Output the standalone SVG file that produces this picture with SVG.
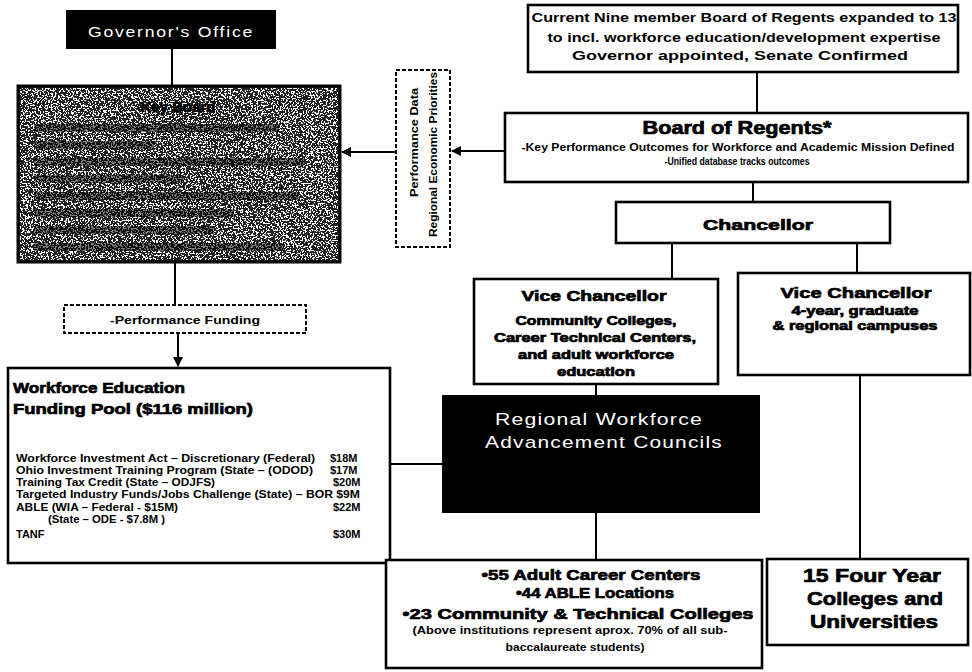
<svg xmlns="http://www.w3.org/2000/svg" width="972" height="672" viewBox="0 0 972 672">
<style>
.box{fill:#fff;stroke:#000;stroke-width:2.6}
.dash{fill:#fff;stroke:#000;stroke-width:2;stroke-dasharray:4 2}
.t{font-family:"Liberation Sans",Arial,sans-serif;font-weight:bold;fill:#000}
.hv{stroke:#000;stroke-width:0.7}
.c{text-anchor:middle}
.wt{font-family:"Liberation Sans",Arial,sans-serif;fill:#fff;font-weight:normal;text-anchor:middle}
.conn line{stroke:#000;stroke-width:2}
.band{fill:#000;opacity:0.5}
</style>
<defs>
<marker id="ah" viewBox="0 0 10 10" refX="9" refY="5" markerWidth="5" markerHeight="5" orient="auto" markerUnits="strokeWidth">
<path d="M0,0 L10,5 L0,10 z" fill="#000"/>
</marker>
<filter id="speckle" x="0" y="0" width="100%" height="100%">
<feTurbulence type="fractalNoise" baseFrequency="0.6" numOctaves="2" seed="7" result="n"/>
<feColorMatrix in="n" type="matrix" values="0 0 0 0 1  0 0 0 0 1  0 0 0 0 1  3 0 0 0 -1.15"/>
<feComponentTransfer><feFuncA type="discrete" tableValues="0 1"/></feComponentTransfer>
</filter>
</defs>

<g class="conn">
<line x1="172" y1="49" x2="172" y2="86"/>
<line x1="175" y1="262" x2="175" y2="305"/>
<line x1="178" y1="334" x2="178" y2="366" marker-end="url(#ah)"/>
<line x1="757" y1="72" x2="757" y2="113"/>
<line x1="505" y1="151" x2="452" y2="151" marker-end="url(#ah)"/>
<line x1="395" y1="152" x2="342" y2="152" marker-end="url(#ah)"/>
<line x1="753" y1="182" x2="753" y2="202"/>
<line x1="672" y1="243" x2="672" y2="279"/>
<line x1="857" y1="243" x2="857" y2="273"/>
<line x1="596" y1="384" x2="596" y2="395"/>
<line x1="860" y1="375" x2="860" y2="559"/>
<line x1="390" y1="464" x2="442" y2="464"/>
<line x1="596" y1="513" x2="596" y2="560"/>
</g>

<g id="governors-office">
<rect x="66" y="10" width="210" height="39" fill="#000"/>
<text class="wt" x="171" y="37" font-size="15" letter-spacing="1.5" textLength="166" lengthAdjust="spacingAndGlyphs">Governor's Office</text>
</g>

<g id="key-board">
<rect x="18" y="86" width="322" height="176" fill="#222" stroke="#000" stroke-width="3"/>
<rect x="20" y="88" width="318" height="172" fill="#fff" filter="url(#speckle)"/>
<rect class="band" x="34" y="124" width="245" height="8"/>
<rect class="band" x="34" y="141" width="120" height="8"/>
<rect class="band" x="34" y="158" width="270" height="8"/>
<rect class="band" x="34" y="175" width="150" height="8"/>
<rect class="band" x="34" y="192" width="265" height="8"/>
<rect class="band" x="34" y="209" width="200" height="8"/>
<rect class="band" x="34" y="226" width="180" height="8"/>
<rect class="band" x="34" y="243" width="250" height="8"/>
<text class="t c hv" x="178" y="112" font-size="15">Key Board</text>
</g>

<g id="performance-data">
<rect class="dash" x="396" y="70" width="54" height="177"/>
<text class="t" transform="translate(418,197) rotate(-90)" font-size="11.5" textLength="109" lengthAdjust="spacingAndGlyphs">Performance Data</text>
<text class="t" transform="translate(437,237) rotate(-90)" font-size="11.5" textLength="165" lengthAdjust="spacingAndGlyphs">Regional Economic Priorities</text>
</g>

<g id="performance-funding">
<rect class="dash" x="64" y="305" width="242" height="28"/>
<text class="t c" x="185" y="324" font-size="11.5" textLength="150" lengthAdjust="spacingAndGlyphs">-Performance Funding</text>
</g>

<g id="board-expansion">
<rect class="box" x="528" y="5" width="430" height="67"/>
<text class="t c" x="744" y="22" font-size="13.5" textLength="425" lengthAdjust="spacingAndGlyphs">Current Nine member Board of Regents expanded to 13</text>
<text class="t c" x="744" y="42" font-size="13.5" textLength="393" lengthAdjust="spacingAndGlyphs">to incl. workforce education/development expertise</text>
<text class="t c" x="740" y="60" font-size="13.5" textLength="336" lengthAdjust="spacingAndGlyphs">Governor appointed, Senate Confirmed</text>
</g>

<g id="board-of-regents">
<rect class="box" x="505" y="113" width="463" height="69"/>
<text class="t c hv" x="737" y="134" font-size="18" textLength="189" lengthAdjust="spacingAndGlyphs">Board of Regents*</text>
<text class="t c" x="738" y="151" font-size="10" textLength="433" lengthAdjust="spacingAndGlyphs">-Key Performance Outcomes for Workforce and Academic Mission Defined</text>
<text class="t c" x="737" y="165" font-size="10" textLength="145" lengthAdjust="spacingAndGlyphs">-Unified database tracks outcomes</text>
</g>

<g id="chancellor">
<rect class="box" x="616" y="202" width="274" height="41"/>
<text class="t c hv" x="758" y="230" font-size="15.5" textLength="110" lengthAdjust="spacingAndGlyphs">Chancellor</text>
</g>

<g id="vice-chancellor-cc">
<rect class="box" x="474" y="279" width="244" height="105"/>
<text class="t c hv" x="594" y="301" font-size="15" textLength="145" lengthAdjust="spacingAndGlyphs">Vice Chancellor</text>
<text class="t c hv" x="596" y="325" font-size="12" stroke-width="0.5" textLength="161" lengthAdjust="spacingAndGlyphs">Community Colleges,</text>
<text class="t c hv" x="595" y="342" font-size="12" stroke-width="0.5" textLength="202" lengthAdjust="spacingAndGlyphs">Career Technical Centers,</text>
<text class="t c hv" x="596" y="359" font-size="12" stroke-width="0.5" textLength="156" lengthAdjust="spacingAndGlyphs">and adult workforce</text>
<text class="t c hv" x="596" y="376" font-size="12" stroke-width="0.5" textLength="78" lengthAdjust="spacingAndGlyphs">education</text>
</g>

<g id="vice-chancellor-4yr">
<rect class="box" x="738" y="273" width="232" height="102"/>
<text class="t c hv" x="856" y="298" font-size="15" textLength="151" lengthAdjust="spacingAndGlyphs">Vice Chancellor</text>
<text class="t c hv" x="855" y="315" font-size="12" stroke-width="0.5" textLength="127" lengthAdjust="spacingAndGlyphs">4-year, graduate</text>
<text class="t c hv" x="855" y="330" font-size="12" stroke-width="0.5" textLength="165" lengthAdjust="spacingAndGlyphs">&amp; regional campuses</text>
</g>

<g id="funding-pool">
<rect class="box" x="8" y="368" width="382" height="195"/>
<text class="t hv" x="13" y="393" font-size="15" stroke-width="0.5" textLength="172" lengthAdjust="spacingAndGlyphs">Workforce Education</text>
<text class="t hv" x="13" y="414" font-size="15" stroke-width="0.5" textLength="240" lengthAdjust="spacingAndGlyphs">Funding Pool ($116 million)</text>
<g font-size="11">
<text class="t" x="16" y="462" textLength="299" lengthAdjust="spacingAndGlyphs">Workforce Investment Act – Discretionary (Federal)</text>
<text class="t" x="330" y="462">$18M</text>
<text class="t" x="16" y="474" textLength="297" lengthAdjust="spacingAndGlyphs">Ohio Investment Training Program (State – (ODOD)</text>
<text class="t" x="330" y="474">$17M</text>
<text class="t" x="16" y="486" textLength="199" lengthAdjust="spacingAndGlyphs">Training Tax Credit (State – ODJFS)</text>
<text class="t" x="333" y="486">$20M</text>
<text class="t" x="16" y="498" textLength="344" lengthAdjust="spacingAndGlyphs">Targeted Industry Funds/Jobs Challenge (State) – BOR $9M</text>
<text class="t" x="16" y="511" textLength="162" lengthAdjust="spacingAndGlyphs">ABLE (WIA – Federal - $15M)</text>
<text class="t" x="333" y="511">$22M</text>
<text class="t" x="48" y="523" textLength="117" lengthAdjust="spacingAndGlyphs">(State – ODE - $7.8M )</text>
<text class="t" x="16" y="538">TANF</text>
<text class="t" x="333" y="538">$30M</text>
</g>
</g>

<g id="regional-councils">
<rect x="442" y="395" width="318" height="118" fill="#000"/>
<text class="wt" x="599" y="425" font-size="17" letter-spacing="1" textLength="208" lengthAdjust="spacingAndGlyphs">Regional Workforce</text>
<text class="wt" x="604" y="448" font-size="17" letter-spacing="1" textLength="238" lengthAdjust="spacingAndGlyphs">Advancement Councils</text>
</g>

<g id="adult-institutions">
<rect class="box" x="386" y="560" width="376" height="108"/>
<text class="t c hv" x="591" y="580" font-size="15" textLength="219" lengthAdjust="spacingAndGlyphs">•55 Adult Career Centers</text>
<text class="t c hv" x="595" y="598" font-size="15" textLength="158" lengthAdjust="spacingAndGlyphs">•44 ABLE Locations</text>
<text class="t c hv" x="578" y="619" font-size="15" textLength="351" lengthAdjust="spacingAndGlyphs">•23 Community &amp; Technical Colleges</text>
<text class="t c" x="570" y="634" font-size="10.5" textLength="315" lengthAdjust="spacingAndGlyphs">(Above institutions represent aprox. 70% of all sub-</text>
<text class="t c" x="575" y="651" font-size="10.5" textLength="139" lengthAdjust="spacingAndGlyphs">baccalaureate students)</text>
</g>

<g id="four-year">
<rect class="box" x="767" y="559" width="201" height="86"/>
<text class="t c hv" x="872" y="582" font-size="19" stroke-width="0.9" textLength="138" lengthAdjust="spacingAndGlyphs">15 Four Year</text>
<text class="t c hv" x="875" y="605" font-size="19" stroke-width="0.9" textLength="136" lengthAdjust="spacingAndGlyphs">Colleges and</text>
<text class="t c hv" x="874" y="628" font-size="19" stroke-width="0.9" textLength="128" lengthAdjust="spacingAndGlyphs">Universities</text>
</g>
</svg>
